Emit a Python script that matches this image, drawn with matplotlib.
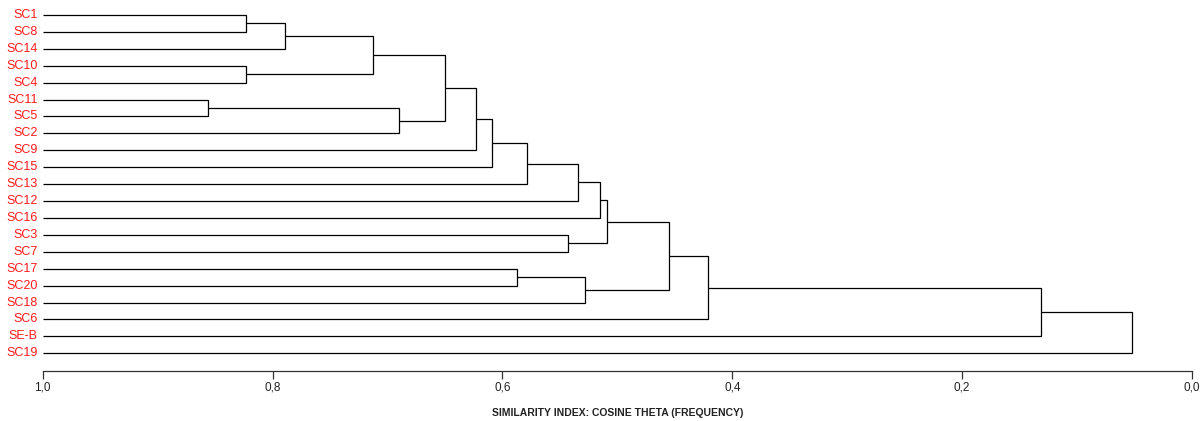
import matplotlib
matplotlib.use("Agg")
import matplotlib.pyplot as plt
from matplotlib import font_manager

# leaves in display order (top to bottom)
leaves = ["SC1", "SC8", "SC14", "SC10", "SC4", "SC11", "SC5", "SC2", "SC9", "SC15",
          "SC13", "SC12", "SC16", "SC3", "SC7", "SC17", "SC20", "SC18", "SC6", "SE-B", "SC19"]

# merges: new cluster ids start at len(leaves), scipy-style
merge_left = [0, 21, 3, 22, 5, 25, 24, 27, 28, 29, 30, 31, 13, 32, 15, 35, 34, 37, 38, 39]
merge_right = [1, 2, 4, 23, 6, 7, 26, 8, 9, 10, 11, 12, 14, 33, 16, 17, 36, 18, 19, 20]
merge_sim = [0.823, 0.789, 0.823, 0.713, 0.856, 0.690, 0.650, 0.623, 0.609, 0.579,
             0.534, 0.515, 0.543, 0.509, 0.587, 0.528, 0.455, 0.421, 0.131, 0.052]

tick_vals = [1.0, 0.8, 0.6, 0.4, 0.2, 0.0]
tick_labels = ["1,0", "0,8", "0,6", "0,4", "0,2", "0,0"]

names = {f.name for f in font_manager.fontManager.ttflist}
if "Liberation Sans Narrow" in names:
    xl_font, xl_size = "Liberation Sans Narrow", 8.5
else:
    xl_font, xl_size = "Liberation Sans", 7.5

W, H = 1204, 421
fig = plt.figure(figsize=(W / 100, H / 100), dpi=100)
ax_left, ax_right = 42.7, 1192.0
axis_y = 370.7
ax = fig.add_axes([ax_left / W, 1 - axis_y / H, (ax_right - ax_left) / W, axis_y / H])

step = (353.3 - 15.0) / 20
ax.set_xlim(1.0, 0.0)
ax.set_ylim((axis_y - 15.0) / step, -15.0 / step)

pos = {i: (i, 1.0) for i in range(len(leaves))}
for k, (a, b, s) in enumerate(zip(merge_left, merge_right, merge_sim)):
    ya, xa = pos[a]
    yb, xb = pos[b]
    ax.plot([xa, s, s, xb], [ya, ya, yb, yb], color="black", lw=0.9,
            solid_joinstyle="miter", solid_capstyle="butt")
    pos[len(leaves) + k] = ((ya + yb) / 2, s)

for i, name in enumerate(leaves):
    ax.annotate(name, xy=(1.0, i), xycoords="data", xytext=(-5, 0),
                textcoords="offset pixels", ha="right", va="center",
                color="#ff1a1a", fontsize=9, family="Liberation Sans")

for sp in ["top", "right", "left"]:
    ax.spines[sp].set_visible(False)
ax.spines["bottom"].set_color("#333333")
ax.spines["bottom"].set_linewidth(0.9)
ax.set_yticks([])
ax.set_xticks(tick_vals)
ax.set_xticklabels(tick_labels, family="Liberation Sans", fontsize=8.5, color="#222222")
ax.tick_params(axis="x", length=6, width=0.9, color="#333333", pad=2)
ax.set_xlabel("SIMILARITY INDEX: COSINE THETA (FREQUENCY)", family=xl_font,
              fontweight="bold", fontsize=xl_size, color="#222222", labelpad=10)

fig.savefig("out.png", dpi=100)
